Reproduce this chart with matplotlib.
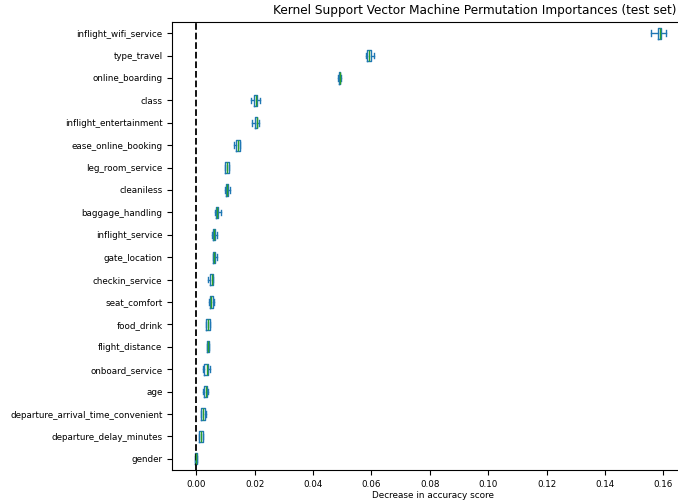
import numpy as np
import matplotlib
matplotlib.use("Agg")
import matplotlib.pyplot as plt

# permutation importance summary per feature (bottom to top)
features = ["gender", "departure_delay_minutes", "departure_arrival_time_convenient",
            "age", "onboard_service", "flight_distance", "food_drink", "seat_comfort",
            "checkin_service", "gate_location", "inflight_service", "baggage_handling",
            "cleaniless", "leg_room_service", "ease_online_booking",
            "inflight_entertainment", "class", "online_boarding", "type_travel",
            "inflight_wifi_service"]
med = [0.0000, 0.0017, 0.0024, 0.0032, 0.0038, 0.0040, 0.0041, 0.0052,
       0.0053, 0.0060, 0.0060, 0.0071, 0.0104, 0.0106, 0.0144,
       0.0207, 0.0205, 0.0491, 0.0592, 0.1590]
q1 = [-0.0003, 0.0011, 0.0018, 0.0026, 0.0028, 0.0038, 0.0035, 0.0047,
      0.0047, 0.0057, 0.0056, 0.0067, 0.0101, 0.0099, 0.0138,
      0.0200, 0.0197, 0.0488, 0.0585, 0.1580]
q3 = [0.0003, 0.0023, 0.0031, 0.0038, 0.0042, 0.0044, 0.0047, 0.0058,
      0.0058, 0.0065, 0.0065, 0.0076, 0.0108, 0.0111, 0.0149,
      0.0209, 0.0210, 0.0494, 0.0600, 0.1593]
lo = [-0.0004, 0.0009, 0.0016, 0.0024, 0.0022, 0.0037, 0.0033, 0.0045,
      0.0041, 0.0056, 0.0055, 0.0065, 0.0100, 0.0098, 0.0129,
      0.0192, 0.0188, 0.0486, 0.0580, 0.1559]
hi = [0.0004, 0.0025, 0.0033, 0.0040, 0.0049, 0.0045, 0.0049, 0.0060,
      0.0059, 0.0071, 0.0072, 0.0086, 0.0115, 0.0112, 0.0151,
      0.0214, 0.0217, 0.0496, 0.0610, 0.1610]

stats = [dict(label=f, med=m, q1=a, q3=b, whislo=l, whishi=h, fliers=[])
         for f, m, a, b, l, h in zip(features, med, q1, q3, lo, hi)]

fig = plt.figure(figsize=(6.78, 5.0), dpi=100)
# axes run past the right edge of the figure
ax = fig.add_axes([0.254, 0.06, 0.771, 0.896])
ax.bxp(stats, vert=False, widths=0.5,
       boxprops=dict(color="#1f77b4"), whiskerprops=dict(color="#1f77b4"),
       capprops=dict(color="#1f77b4"), medianprops=dict(color="#2ca02c"))
ax.axvline(x=0, color="k", linestyle="--", linewidth=1.3)
ax.set_xlim(-0.0082, 0.1708)
ax.set_xticks(np.arange(0, 0.161, 0.02))
ax.tick_params(labelsize=6.3)
ax.set_title("Kernel Support Vector Machine Permutation Importances (test set)",
             fontsize=8.7, x=0.578)
ax.set_xlabel("Decrease in accuracy score", fontsize=6.4, labelpad=2, x=0.498)
fig.savefig("out.png", dpi=100)
